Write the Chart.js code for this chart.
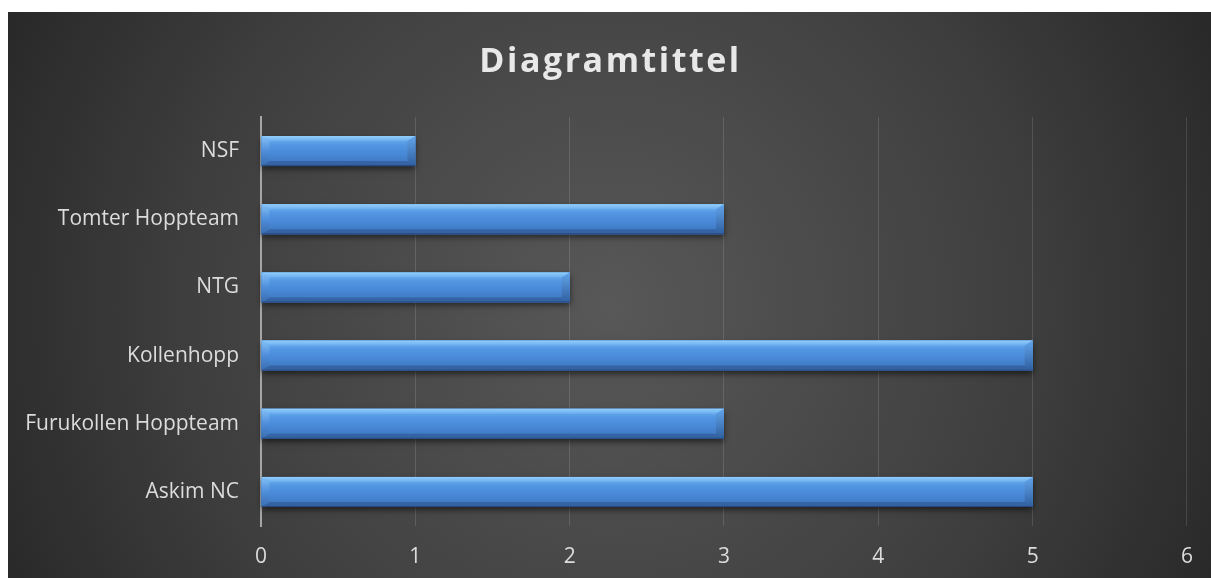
<!DOCTYPE html>
<html>
<head>
<meta charset="utf-8">
<script src="https://cdn.jsdelivr.net/npm/chart.js@4"></script>
<style>
  html, body { margin: 0; padding: 0; background: #fff; }
  #wrap { position: absolute; left: 8px; top: 12px; width: 1203px; height: 566px; }
</style>
</head>
<body>
<div id="wrap"><canvas id="chart"></canvas></div>
<script>
// Excel order: first category sits at the bottom
const categories = ['Askim NC', 'Furukollen Hoppteam', 'Kollenhopp', 'NTG', 'Tomter Hoppteam', 'NSF'];
const values = [5, 3, 5, 2, 3, 1];
const xTicks = [0, 1, 2, 3, 4, 5, 6];
const chartTitle = 'Diagramtittel';

const FONT = '"Open Sans", "DejaVu Sans", sans-serif';

// dark radial background + title
const backdrop = {
  id: 'backdrop',
  beforeDraw(chart) {
    const { ctx, width, height } = chart;
    ctx.save();
    const g = ctx.createRadialGradient(width * 0.5, height * 0.52, 0, width * 0.5, height * 0.52, width * 0.62);
    g.addColorStop(0, '#585858');
    g.addColorStop(0.55, '#3f3f3f');
    g.addColorStop(1, '#222222');
    ctx.fillStyle = g;
    ctx.fillRect(0, 0, width, height);

    ctx.fillStyle = '#e8e8e8';
    ctx.font = 'bold 34px ' + FONT;
    ctx.letterSpacing = '2.5px';
    ctx.textAlign = 'center';
    ctx.textBaseline = 'middle';
    ctx.fillText(chartTitle, width / 2 + 1, 50);
    ctx.restore();
  }
};

// bevelled look for the bars, drawn over the library's rectangles
const bevel = {
  id: 'bevel',
  afterDatasetsDraw(chart) {
    const { ctx } = chart;
    const meta = chart.getDatasetMeta(0);
    meta.data.forEach(el => {
      const p = el.getProps(['x', 'y', 'base', 'height'], true);
      const x0 = Math.min(p.base, p.x), x1 = Math.max(p.base, p.x);
      const yt = p.y - p.height / 2, yb = p.y + p.height / 2;
      const b = 8, t = 5;

      ctx.save();
      ctx.shadowColor = 'rgba(0,0,0,0.55)';
      ctx.shadowBlur = 6;
      ctx.shadowOffsetY = 3;
      ctx.fillStyle = '#3f78c0';
      ctx.fillRect(x0, yt, x1 - x0, yb - yt);
      ctx.restore();

      ctx.save();
      const g = ctx.createLinearGradient(0, yt, 0, yb);
      g.addColorStop(0, '#74b6f4');
      g.addColorStop(0.3, '#5296e2');
      g.addColorStop(0.6, '#4888d6');
      g.addColorStop(1, '#3b74bd');
      ctx.fillStyle = g;
      ctx.fillRect(x0, yt, x1 - x0, yb - yt);

      // top edge
      const gt = ctx.createLinearGradient(0, yt, 0, yt + t);
      gt.addColorStop(0, '#92cefb');
      gt.addColorStop(1, '#6aaeef');
      ctx.fillStyle = gt;
      ctx.beginPath();
      ctx.moveTo(x0, yt); ctx.lineTo(x1, yt); ctx.lineTo(x1 - b, yt + t); ctx.lineTo(x0 + b, yt + t);
      ctx.closePath(); ctx.fill();

      // bottom edge
      ctx.fillStyle = '#3563a3';
      ctx.beginPath();
      ctx.moveTo(x0, yb); ctx.lineTo(x1, yb); ctx.lineTo(x1 - b, yb - t); ctx.lineTo(x0 + b, yb - t);
      ctx.closePath(); ctx.fill();

      // left end
      const gl = ctx.createLinearGradient(0, yt, 0, yb);
      gl.addColorStop(0, '#84c0f6');
      gl.addColorStop(0.5, '#4e8edb');
      gl.addColorStop(1, '#3a6cae');
      ctx.fillStyle = gl;
      ctx.beginPath();
      ctx.moveTo(x0, yt); ctx.lineTo(x0 + b, yt + t); ctx.lineTo(x0 + b, yb - t); ctx.lineTo(x0, yb);
      ctx.closePath(); ctx.fill();

      // right end
      const gr = ctx.createLinearGradient(0, yt, 0, yb);
      gr.addColorStop(0, '#62a4ea');
      gr.addColorStop(1, '#2f5f9f');
      ctx.fillStyle = gr;
      ctx.beginPath();
      ctx.moveTo(x1, yt); ctx.lineTo(x1 - b, yt + t); ctx.lineTo(x1 - b, yb - t); ctx.lineTo(x1, yb);
      ctx.closePath(); ctx.fill();

      ctx.strokeStyle = 'rgba(30,60,110,0.7)';
      ctx.lineWidth = 1;
      ctx.beginPath();
      ctx.moveTo(x0, yb - 0.5); ctx.lineTo(x1, yb - 0.5);
      ctx.stroke();
      ctx.restore();
    });
  }
};

new Chart(document.getElementById('chart'), {
  type: 'bar',
  data: {
    labels: categories,
    datasets: [{
      data: values,
      backgroundColor: '#4585d2',
      borderWidth: 0,
      categoryPercentage: 1,
      barPercentage: 0.44
    }]
  },
  options: {
    indexAxis: 'y',
    responsive: true,
    maintainAspectRatio: false,
    animation: false,
    layout: { padding: { top: 105, right: 23, bottom: 0, left: 0 } },
    plugins: {
      legend: { display: false },
      title: { display: false },
      tooltip: { enabled: false }
    },
    scales: {
      x: {
        min: 0,
        max: 6,
        afterBuildTicks(scale) { scale.ticks = xTicks.map(v => ({ value: v })); },
        afterFit(scale) { scale.height = 52; },
        grid: { color: 'rgba(255,255,255,0.13)', lineWidth: 1, drawTicks: false },
        border: { display: false },
        ticks: { color: '#dcdcdc', font: { family: FONT, size: 21 }, padding: 18 }
      },
      y: {
        reverse: true,
        afterFit(scale) { scale.width = 253; },
        grid: { display: false, drawTicks: false },
        border: { display: true, color: '#a6a6a6', width: 2 },
        ticks: { color: '#dcdcdc', font: { family: FONT, size: 21 }, padding: 22 }
      }
    }
  },
  plugins: [backdrop, bevel]
});
</script>
</body>
</html>
